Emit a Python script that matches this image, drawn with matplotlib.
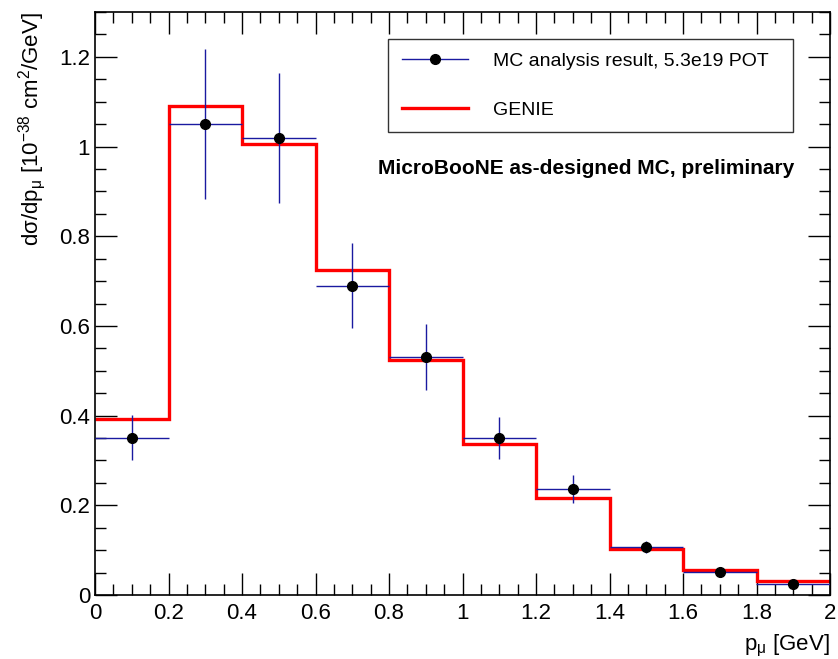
import numpy as np
import matplotlib.pyplot as plt
from matplotlib.lines import Line2D
from matplotlib.ticker import MultipleLocator, FuncFormatter

plt.rcParams['font.family'] = ['Liberation Sans', 'DejaVu Sans']
plt.rcParams['mathtext.fontset'] = 'custom'
plt.rcParams['mathtext.rm'] = 'Liberation Sans'
plt.rcParams['mathtext.it'] = 'Liberation Sans:italic'

# bins [GeV]
edges = [0.0, 0.2, 0.4, 0.6, 0.8, 1.0, 1.2, 1.4, 1.6, 1.8, 2.0]
centers = [0.1, 0.3, 0.5, 0.7, 0.9, 1.1, 1.3, 1.5, 1.7, 1.9]

# MC analysis result
mc_val = [0.351, 1.050, 1.020, 0.690, 0.531, 0.350, 0.237, 0.107, 0.052, 0.024]
mc_err = [0.050, 0.167, 0.145, 0.095, 0.073, 0.047, 0.031, 0.013, 0.005, 0.003]

# GENIE prediction
genie = [0.393, 1.090, 1.005, 0.725, 0.524, 0.337, 0.216, 0.102, 0.056, 0.032]

err_col = '#1a1aa0'

fig = plt.figure(figsize=(8.38, 6.59), dpi=100)
ax = fig.add_axes([95/838, 1 - 595/659, 735/838, 583/659])

# GENIE histogram
ax.stairs(genie, edges, color='#ff0000', lw=2.4, baseline=None, zorder=2)

# data points with errors
xerr = [0.1] * len(centers)
ax.errorbar(centers, mc_val, yerr=mc_err, xerr=xerr, fmt='o', color='black',
            ms=7, ecolor=err_col, elinewidth=1.0, capsize=0, zorder=3)

ax.set_xlim(0, 2)
ax.set_ylim(0, 1.3)
ax.xaxis.set_major_locator(MultipleLocator(0.2))
ax.xaxis.set_minor_locator(MultipleLocator(0.05))
ax.yaxis.set_major_locator(MultipleLocator(0.2))
ax.yaxis.set_minor_locator(MultipleLocator(0.05))

fmt = FuncFormatter(lambda v, p: '0' if abs(v) < 1e-9 else ('%g' % round(v, 2)))
ax.xaxis.set_major_formatter(fmt)
ax.yaxis.set_major_formatter(fmt)

ax.tick_params(which='both', direction='in', top=True, right=True, labelsize=16, width=1)
ax.tick_params(which='major', length=16)
ax.tick_params(which='minor', length=8)
ax.tick_params(axis='x', pad=6)
for s in ax.spines.values():
    s.set_linewidth(1.2)

ax.set_xlabel('p$_{\\mathregular{μ}}$ [GeV]', fontsize=16, loc='right', labelpad=6)
ax.set_ylabel('dσ/dp$_{\\mathregular{μ}}$ [10$^{\\mathregular{-38}}$ cm$^{\\mathregular{2}}$/GeV]',
              fontsize=16, loc='top', labelpad=8)

handles = [
    Line2D([], [], color=err_col, lw=1.0, marker='o', ms=7, mfc='black', mec='black'),
    Line2D([], [], color='#ff0000', lw=2.4),
]
labels = ['MC analysis result, 5.3e19 POT', 'GENIE']
leg = ax.legend(handles, labels, loc='upper left', bbox_to_anchor=(0.399, 0.798, 0.55, 0.156),
                mode='expand', fontsize=14, frameon=True, fancybox=False, edgecolor='black',
                borderpad=0.7, labelspacing=1.6, handlelength=3.4, handletextpad=1.3,
                borderaxespad=0)
leg.get_frame().set_linewidth(1.0)

ax.text(0.952, 0.732, 'MicroBooNE as-designed MC, preliminary', transform=ax.transAxes,
        ha='right', va='center', fontsize=15, fontweight='bold')

fig.savefig('out.png', dpi=100)
